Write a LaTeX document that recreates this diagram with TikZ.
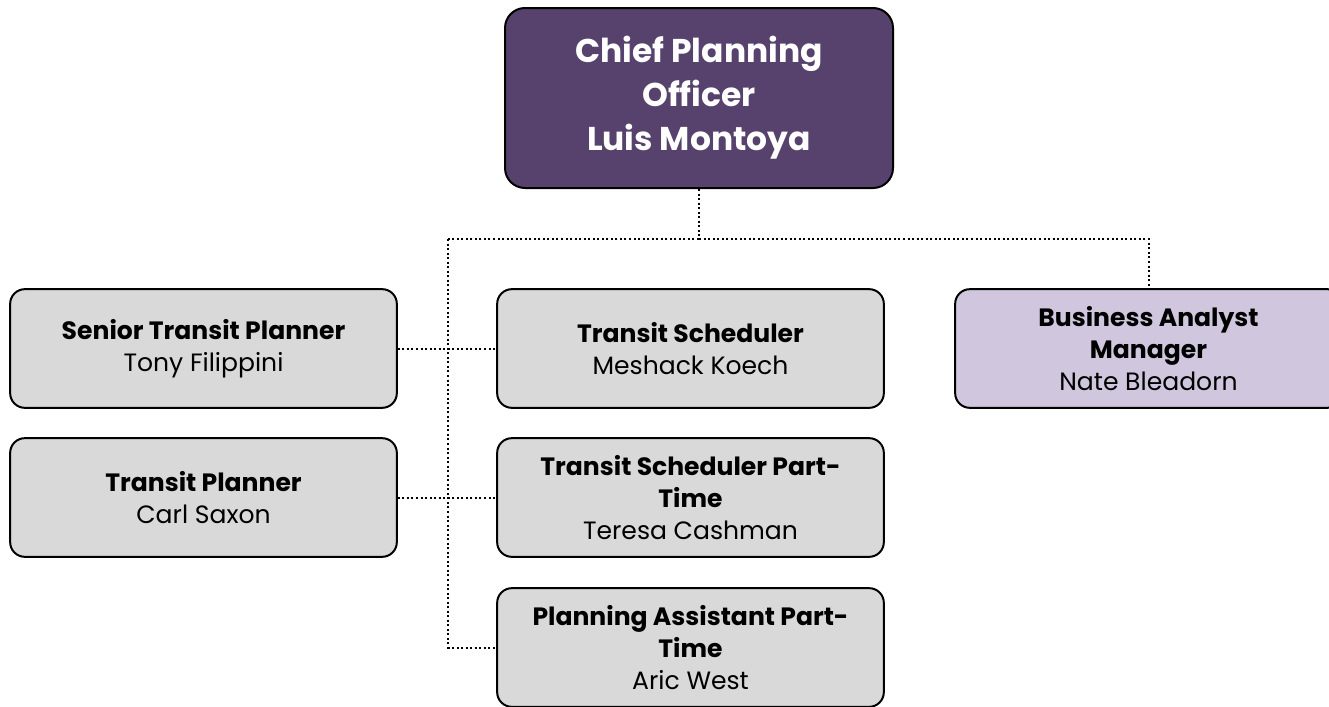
\documentclass[tikz,border=0pt]{standalone}
\usepackage{fontspec}
\setmainfont{Poppins}
\usepackage{tikz}
\usetikzlibrary{shapes}
\usetikzlibrary{positioning}
\usetikzlibrary{calc}
\definecolor{chefviolet}{RGB}{86,66,108}
\definecolor{gris}{RGB}{217,217,217}
\definecolor{lilas}{RGB}{208,199,222}
\tikzstyle{chef}=[rectangle,draw=black,line width=1.5pt,rounded corners=15pt,
fill=chefviolet,text=white,font=\fontsize{24.7}{33}\selectfont\bfseries,
minimum width=291pt,minimum height=135pt,align=center,inner sep=0pt]
\tikzstyle{poste}=[rectangle,draw=black,line width=1.5pt,rounded corners=11pt,
fill=gris,text=black,font=\fontsize{18.8}{24}\selectfont,
minimum width=290pt,minimum height=89pt,align=center,inner sep=0pt]
\tikzstyle{analyste}=[poste,fill=lilas]
\tikzstyle{lien}=[line width=1.5pt,dash pattern=on 1.5pt off 1.9pt]

\begin{document}
\begin{tikzpicture}[x=0.75pt,y=-0.75pt]
\useasboundingbox (0,0) rectangle (1329,707);
\node[chef] (a) at (699,98) {Chief Planning\\Officer\\Luis Montoya};
\node[poste] (b) at (203.5,348.5) {\textbf{Senior Transit Planner}\\Tony Filippini};
\node[poste] (c) at (203.5,497.5) {\textbf{Transit Planner}\\Carl Saxon};
\node[poste] (d) at (690.5,348.5) {\textbf{Transit Scheduler}\\Meshack Koech};
\node[poste] (e) at (690.5,497.5) {\textbf{Transit Scheduler Part-}\\\textbf{Time}\\Teresa Cashman};
\node[poste] (f) at (690.5,647.5) {\textbf{Planning Assistant Part-}\\\textbf{Time}\\Aric West};
\node[analyste] (g) at (1148.5,348.5) {\textbf{Business Analyst}\\\textbf{Manager}\\Nate Bleadorn};
\coordinate (h) at (699,239);
\coordinate (i) at (448,239);
%liaisons
\draw[lien] (a) -- (h);
\draw[lien] (h) -| (g);
\draw[lien] (h) -- (i);
\draw[lien] (i) |- (f);
\draw[lien] (b) -- (d);
\draw[lien] (c) -- (e);
\end{tikzpicture}
\end{document}
